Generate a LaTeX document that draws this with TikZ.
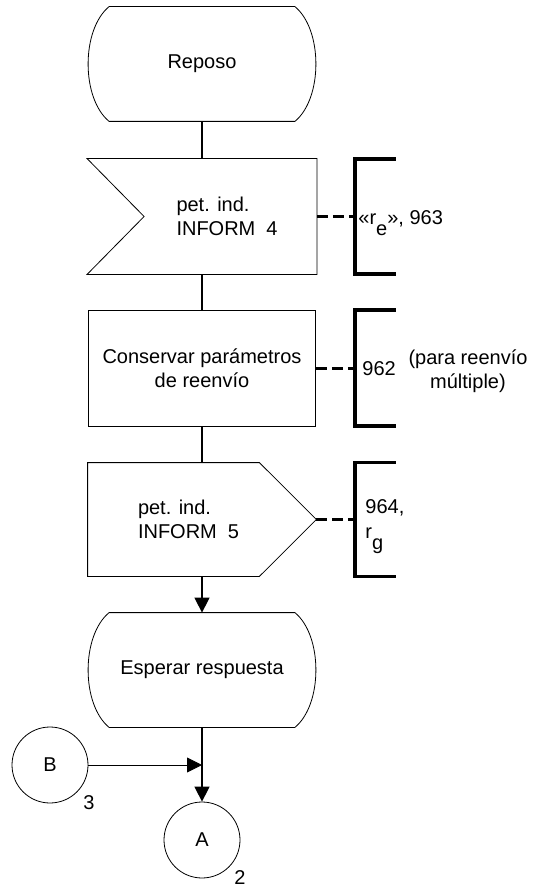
\documentclass[tikz,border=0pt]{standalone}
\usepackage{fontspec}
\setmainfont{Liberation Sans}
\usetikzlibrary{arrows.meta}
\newcommand\lowsub[1]{\raisebox{-0.55em}{#1}}

\begin{document}
\begin{tikzpicture}[x=1pt,y=-1pt,line width=0.8pt,
  font=\fontsize{20}{24}\selectfont,
  every node/.style={inner sep=0pt},
  shapebox/.style 2 args={minimum width=#1,minimum height=#2},
  link/.style={line width=1.5pt},
  flow/.style={line width=1.5pt,-{Triangle[length=15pt,width=15pt]}},
  feed/.style={line width=0.8pt,-{Triangle[length=15pt,width=15pt]}},
  dashlink/.style={line width=3pt,dash pattern=on 11pt off 5pt},
  ext/.style={minimum width=40pt,minimum height=#1},
  bracket/.style={line width=3.5pt},
  conn/.style={circle,draw,minimum size=76pt}]
  \useasboundingbox (0,0) rectangle (538,890);
  % states
  \node[shapebox={185pt}{114pt}] (reposo) at (202,64) {Reposo};
  \draw (reposo.north west) -- (reposo.north east)
    .. controls ([shift={(28,23)}]reposo.north east) and ([shift={(28,-23)}]reposo.south east) .. (reposo.south east)
    -- (reposo.south west)
    .. controls ([shift={(-28,-23)}]reposo.south west) and ([shift={(-28,23)}]reposo.north west) .. (reposo.north west) -- cycle;
  \node[shapebox={185pt}{114pt}] (wait) at (202,670) {Esperar respuesta};
  \draw (wait.north west) -- (wait.north east)
    .. controls ([shift={(28,23)}]wait.north east) and ([shift={(28,-23)}]wait.south east) .. (wait.south east)
    -- (wait.south west)
    .. controls ([shift={(-28,-23)}]wait.south west) and ([shift={(-28,23)}]wait.north west) .. (wait.north west) -- cycle;
  % input signal
  \node[shapebox={229pt}{115pt}] (in4) at (202,216.5) {};
  \draw (in4.north west) -- (in4.north east) -- (in4.south east) -- (in4.south west)
    -- ([shift={(57,0)}]in4.west) -- cycle;
  \node[align=left,anchor=west] (in4txt) at ([shift={(89,0)}]in4.west) {pet. ind.\\INFORM\ \ 4};
  % task
  \node[draw,shapebox={227pt}{116pt},align=center] (keep) at (202,368) {Conservar parámetros\\de reenvío};
  % output signal
  \node[shapebox={228pt}{113pt}] (out5) at (202,519.5) {};
  \draw (out5.north west) -- ([shift={(-57,0)}]out5.north east) -- (out5.east)
    -- ([shift={(-57,0)}]out5.south east) -- (out5.south west) -- cycle;
  \node[align=left,anchor=west] (out5txt) at ([shift={(50,0)}]out5.west) {pet. ind.\\INFORM\ \ 5};
  % connectors
  \node[conn] (A) at (202,840) {A};
  \node[conn] (B) at (50,765) {B};
  \node (numA) at ([shift={(38,38)}]A.center) {2};
  \node (numB) at ([shift={(39,38)}]B.center) {3};
  \coordinate (merge) at (wait.south |- B.east);
  \draw[link] (reposo.south) -- (in4.north);
  \draw[link] (in4.south) -- (keep.north);
  \draw[link] (keep.south) -- (out5.north);
  \draw[flow] (out5.south) -- (wait.north);
  \draw[flow] (wait.south) -- (A.north);
  \draw[feed] (B.east) -- (merge);
  % text extensions
  \node[ext=114pt] (c963) at (375.5,216.5) {};
  \node[ext=115pt] (c962) at (375.5,368) {};
  \node[ext=113pt] (c964) at (375.5,519.5) {};
  \foreach \c in {c963,c962,c964}
    \draw[bracket] (\c.north east) -- (\c.north west) -- (\c.south west) -- (\c.south east);
  \draw[dashlink] (in4.east) -- (c963.west);
  \draw[dashlink] (keep.east) -- (c962.west);
  \draw[dashlink] (out5.east) -- (c964.west);
  \node[anchor=base west] (t963) at (358,225) {«r\lowsub{e}», 963};
  \node[anchor=base west] (t962) at (362,375) {962};
  \node[align=center] (t962b) at (468,371) {(para reenvío\\múltiple)};
  \node[align=left,anchor=north west] (t964) at (365,499) {964,\\[1pt]r\lowsub{g}};
\end{tikzpicture}
\end{document}
